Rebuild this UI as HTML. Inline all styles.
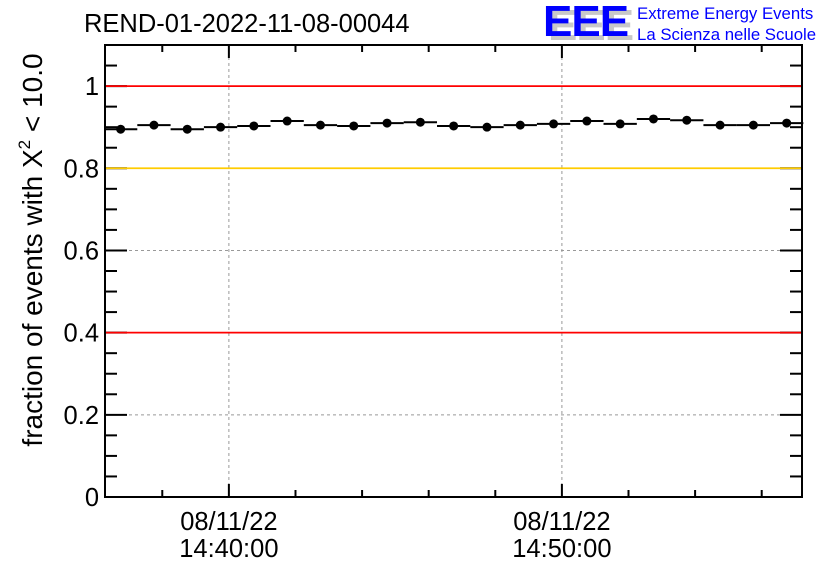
<!DOCTYPE html>
<html><head><meta charset="utf-8"><style>
body{margin:0;background:#fff}
svg{display:block;font-family:"Liberation Sans",sans-serif}
</style></head><body>
<svg id="chart" width="836" height="572" viewBox="0 0 836 572" xmlns="http://www.w3.org/2000/svg">
<rect width="836" height="572" fill="#fff"/>
<text x="84" y="32" font-size="25.5" fill="#000">REND-01-2022-11-08-00044</text>
<g>
<text x="548" y="40" font-size="44" font-weight="bold" fill="#c8c8c8" letter-spacing="-1">EEE</text>
<text x="543" y="36" font-size="44" font-weight="bold" fill="#0000ff" letter-spacing="-1">EEE</text>
<text x="637" y="19" font-size="16.8" fill="#0000ff">Extreme Energy Events</text>
<text x="637" y="40" font-size="16.8" fill="#0000ff">La Scienza nelle Scuole</text>
</g>
<text transform="translate(42,250) rotate(-90)" text-anchor="middle" font-size="28" fill="#000">fraction of events with X<tspan font-size="17" dy="-12">2</tspan><tspan dy="12"> &lt; 10.0</tspan></text>
<g id="plot"></g>
</svg>
<script>
// minutes relative to 14:40:00
const times=[-3.25,-2.25,-1.25,-0.25,0.75,1.75,2.75,3.75,4.75,5.75,6.75,7.75,8.75,9.75,10.75,11.75,12.75,13.75,14.75,15.75,16.75];
const fractions=[0.895,0.905,0.895,0.900,0.903,0.915,0.905,0.903,0.910,0.912,0.903,0.900,0.905,0.908,0.915,0.908,0.920,0.917,0.905,0.905,0.910];
const yTicks=[0,0.2,0.4,0.6,0.8,1];
const yTickLabels=["0","0.2","0.4","0.6","0.8","1"];
const xMajor=[0,10];
const xMajorLabels=[["08/11/22","14:40:00"],["08/11/22","14:50:00"]];
const refLines=[1,0.8,0.4];
const refColors=["#ff0000","#ffcc00","#ff0000"];

const L=105,R=802,T=45,B=497;
const xMin=-3.72,xMax=17.21,yMin=0,yMax=1.1;
const X=v=>L+(v-xMin)/(xMax-xMin)*(R-L);
const Y=v=>B-(v-yMin)/(yMax-yMin)*(B-T);
const g=document.getElementById('plot');
const NS="http://www.w3.org/2000/svg";
function mk(tag,attrs,name){const e=document.createElementNS(NS,tag);for(const k in attrs)e.setAttribute(k,attrs[k]);


g.appendChild(e);return e;}
// grid
yTicks.forEach(v=>{if(v>0&&v<1)mk('line',{x1:L,x2:R,y1:Y(v),y2:Y(v),stroke:'#999','stroke-dasharray':'3,3','stroke-width':1},'y-grid-line');});
xMajor.forEach(v=>mk('line',{x1:X(v),x2:X(v),y1:T,y2:B,stroke:'#999','stroke-dasharray':'3,3','stroke-width':1},'x-grid-line'));
// axes frame
mk('rect',{x:L,y:T,width:R-L,height:B-T,fill:'none',stroke:'#000','stroke-width':2},'plot-frame');
// y ticks
for(let k=1;k<22;k++){const v=k*0.05;const major=k%4===0;const len=major?22:12;
mk('line',{x1:L,x2:L+len,y1:Y(v),y2:Y(v),stroke:'#000','stroke-width':2},'y-tick');
mk('line',{x1:R,x2:R-len,y1:Y(v),y2:Y(v),stroke:'#000','stroke-width':2},'y-tick-right');}
yTicks.forEach((v,i)=>{const t=mk('text',{x:L-6,y:Y(v)+9,'text-anchor':'end','font-size':25.5},'y-tick-label');t.textContent=yTickLabels[i];});
// ref lines (over ticks)
refLines.forEach((v,i)=>mk('line',{x1:L+1,x2:R-1,y1:Y(v),y2:Y(v),stroke:refColors[i],'stroke-width':1.8},'reference-line'));
// x ticks every 2 minutes
for(let m=-2;m<=16;m+=2){const major=m%10===0;const len=major?13:7;
mk('line',{x1:X(m),x2:X(m),y1:B,y2:B-len,stroke:'#000','stroke-width':2},'x-tick');
mk('line',{x1:X(m),x2:X(m),y1:T,y2:T+len,stroke:'#000','stroke-width':2},'x-tick-top');}
xMajor.forEach((v,i)=>{xMajorLabels[i].forEach((s,j)=>{const t=mk('text',{x:X(v),y:530+j*27,'text-anchor':'middle','font-size':25.5},'x-tick-label');t.textContent=s;});});
// data
times.forEach((t,i)=>{const y=Y(fractions[i]);
mk('line',{x1:X(t-0.5),x2:X(t+0.5),y1:y,y2:y,stroke:'#000','stroke-width':2},'bin-bar');
mk('circle',{cx:X(t),cy:y,r:4.5,fill:'#000'},'data-point');});
</script>
</body></html>
